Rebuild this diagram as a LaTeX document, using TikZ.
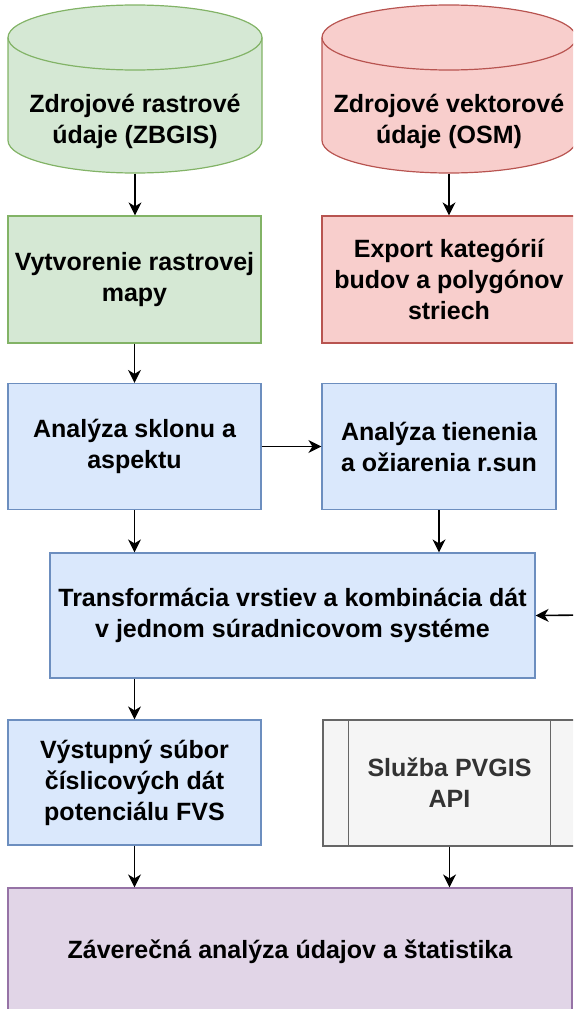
\documentclass[tikz,border=0pt]{standalone}
\usepackage{fontspec}
\setmainfont{Liberation Sans}
\usetikzlibrary{arrows.meta}

\definecolor{zelena}{HTML}{D5E8D4}
\definecolor{zelenaL}{HTML}{82B366}
\definecolor{cervena}{HTML}{F8CECC}
\definecolor{cervenaL}{HTML}{B85450}
\definecolor{modra}{HTML}{DAE8FC}
\definecolor{modraL}{HTML}{6C8EBF}
\definecolor{seda}{HTML}{F5F5F5}
\definecolor{sedaL}{HTML}{666666}
\definecolor{sedaT}{HTML}{333333}
\definecolor{fialova}{HTML}{E1D5E7}
\definecolor{fialovaL}{HTML}{9673A6}

\begin{document}
\begin{tikzpicture}[x=1pt, y=-1pt,
  box/.style = {draw, line width=1.2pt, align=center, inner sep=2pt,
                font=\fontsize{25}{31}\selectfont\bfseries},
  valec/.style = {line width=1.2pt},
  flow/.style = {-{Stealth[length=13pt, width=13pt, inset=4pt]}, line width=1.6pt}]
\clip (0,0) rectangle (573,1009);

% databazy (valce)
\draw[valec, draw=zelenaL, fill=zelena] (8,37.5) -- (8,140.5) arc[start angle=180, end angle=0, x radius=127, y radius=32.5]
  -- (262,37.5) arc[start angle=0, end angle=-180, x radius=127, y radius=32.5] -- cycle;
\draw[valec, draw=zelenaL] (8,37.5) arc[start angle=180, end angle=0, x radius=127, y radius=32.5];
\draw[valec, draw=cervenaL, fill=cervena] (322,37.5) -- (322,140.5) arc[start angle=180, end angle=0, x radius=127, y radius=32.5]
  -- (576,37.5) arc[start angle=0, end angle=-180, x radius=127, y radius=32.5] -- cycle;
\draw[valec, draw=cervenaL] (322,37.5) arc[start angle=180, end angle=0, x radius=127, y radius=32.5];

\node[box, draw=none, minimum width=254pt, minimum height=104pt] (zbgis) at (135,121) {Zdrojové rastrové\\údaje (ZBGIS)};
\node[box, draw=none, minimum width=254pt, minimum height=104pt] (osm) at (449,121) {Zdrojové vektorové\\údaje (OSM)};

\node[box, fill=zelena, draw=zelenaL, minimum width=253pt, minimum height=127pt] (raster) at (134.5,279.5) {Vytvorenie rastrovej\\mapy};
\node[box, fill=cervena, draw=cervenaL, minimum width=254pt, minimum height=127pt] (export) at (449,279.5) {Export kategórií\\budov a polygónov\\striech};

\node[box, fill=modra, draw=modraL, minimum width=253pt, minimum height=126pt] (sklon) at (134.5,446.5) {Analýza sklonu a\\aspektu};
\node[box, fill=modra, draw=modraL, minimum width=234pt, minimum height=126pt] (tienenie) at (439,446.5) {Analýza tienenia\\a ožiarenia r.sun};

\node[box, fill=modra, draw=modraL, minimum width=485pt, minimum height=125pt] (transf) at (292.5,615.5) {Transformácia vrstiev a kombinácia dát\\v jednom súradnicovom systéme};

\node[box, fill=modra, draw=modraL, minimum width=253pt, minimum height=125pt] (vystup) at (134.5,782.5) {Výstupný súbor\\číslicových dát\\potenciálu FVS};
\node[box, fill=seda, draw=sedaL, text=sedaT, minimum width=253pt, minimum height=126pt] (pvgis) at (449.5,783) {Služba PVGIS\\API};
\draw[sedaL, line width=1.2pt] ([xshift=26pt]pvgis.north west) -- ([xshift=26pt]pvgis.south west);
\draw[sedaL, line width=1.2pt] ([xshift=-26pt]pvgis.north east) -- ([xshift=-26pt]pvgis.south east);

\node[box, fill=fialova, draw=fialovaL, minimum width=564pt, minimum height=128pt] (zaver) at (290,952) {Záverečná analýza údajov a štatistika};

\coordinate (vstup) at (590,615);

\draw[flow] (zbgis.south) -- (zbgis.south |- raster.north);
\draw[flow] (osm.south) -- (osm.south |- export.north);
\draw[flow] (raster.south) -- (raster.south |- sklon.north);
\draw[flow] (sklon.east) -- (tienenie.west);
\draw[flow] (sklon.south) -- (sklon.south |- transf.north);
\draw[flow] (tienenie.south) -- (tienenie.south |- transf.north);
\draw[flow] (vstup) -- (transf.east);
\draw[flow] (vystup.north |- transf.south) -- (vystup.north);
\draw[flow] (vystup.south) -- (vystup.south |- zaver.north);
\draw[flow] (pvgis.south) -- (pvgis.south |- zaver.north);
\end{tikzpicture}
\end{document}
